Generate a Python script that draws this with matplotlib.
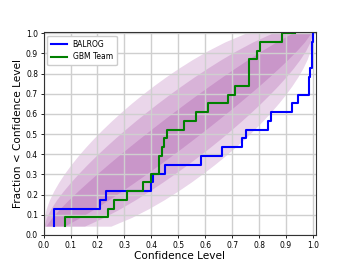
import numpy as np
import matplotlib
matplotlib.use("Agg")
import matplotlib.pyplot as plt
from math import comb

# sorted confidence levels of the true positions (23 GRBs)
balrog_cl = [0.04, 0.04, 0.21, 0.23, 0.40, 0.405, 0.452, 0.583, 0.663, 0.736,
             0.753, 0.835, 0.844, 0.924, 0.945, 0.985, 0.985, 0.99, 0.995,
             0.997, 0.998, 0.999, 1.0]
gbm_cl = [0.08, 0.24, 0.26, 0.31, 0.37, 0.40, 0.43, 0.43, 0.439, 0.447,
          0.458, 0.523, 0.565, 0.612, 0.683, 0.71, 0.764, 0.764, 0.764,
          0.793, 0.802, 0.885, 0.935]
ticks = [0.0, 0.1, 0.2, 0.3, 0.4, 0.5, 0.6, 0.7, 0.8, 0.9, 1.0]
sigma_probs = [(0.15866, 0.84134), (0.02275, 0.97725), (0.00135, 0.99865)]

n = len(balrog_cl)
frac = np.arange(1, n + 1) / n

# order statistic i of n uniforms ~ Beta(i, n+1-i); cdf via binomial sum
xs = np.linspace(0, 1, 20001)


def beta_cdf(i):
    return sum(comb(n, k) * xs**k * (1 - xs)**(n - k) for k in range(i, n + 1))


cdfs = [beta_cdf(i) for i in range(1, n + 1)]

fig = plt.figure(figsize=(3.52, 2.64), dpi=100)
ax = fig.add_axes([0.124, 0.11, 0.774, 0.769])

for qlo, qhi in sigma_probs:
    lo = [np.interp(qlo, c, xs) for c in cdfs]
    hi = [np.interp(qhi, c, xs) for c in cdfs]
    ax.fill_betweenx(frac, lo, hi, color="purple", alpha=0.16, lw=0)

ax.step(balrog_cl, frac, where="pre", color="blue", lw=1.5, label="BALROG")
ax.step(gbm_cl, frac, where="pre", color="green", lw=1.5, label="GBM Team")

ax.set_xlim(0, 1.012)
ax.set_ylim(0, 1.006)
ax.set_xticks(ticks)
ax.set_yticks(ticks)
ax.tick_params(labelsize=5.5, length=2.5, width=0.6, pad=1.5)
ax.grid(True, color="#cfcfcf", lw=1.0)
for s in ax.spines.values():
    s.set_color("#333333")
    s.set_linewidth(0.8)

ax.set_xlabel("Confidence Level", fontsize=7.6, labelpad=1)
ax.set_ylabel("Fraction < Confidence Level", fontsize=7.6, labelpad=2)
ax.legend(loc="upper left", fontsize=5.5, framealpha=1, edgecolor="#cccccc",
          fancybox=True, borderpad=0.5, handlelength=2.0)

fig.savefig("out.png", dpi=100)
